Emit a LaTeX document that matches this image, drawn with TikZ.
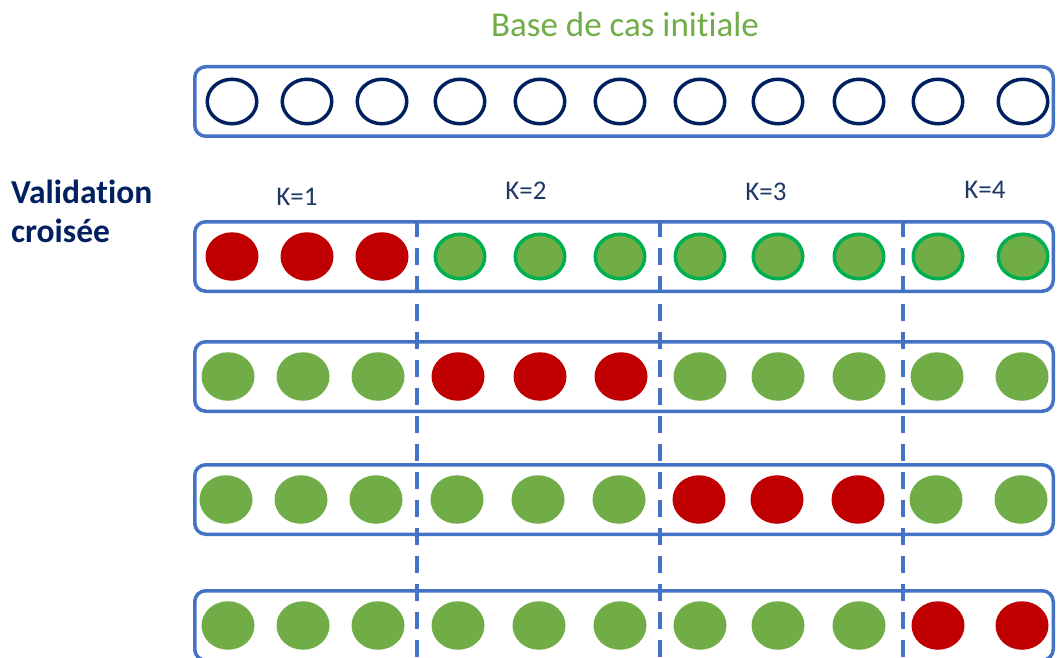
\documentclass[tikz,border=0pt]{standalone}
\usepackage{fontspec}
\setmainfont{Carlito}[Ligatures={NoCommon}]
\usetikzlibrary{shapes.geometric}
\definecolor{boxblue}{HTML}{4472C4}
\definecolor{navy}{HTML}{002060}
\definecolor{kblue}{HTML}{1F3864}
\definecolor{cred}{HTML}{C00000}
\definecolor{cgreen}{HTML}{70AD47}
\definecolor{lgreen}{HTML}{00B050}
\begin{document}
\begin{tikzpicture}[x=1pt,y=-1pt,
  rowbox/.style={draw=boxblue, line width=3.5pt, rounded corners=11pt, minimum width=858.5pt, minimum height=69.5pt, inner sep=0pt},
  emptyc/.style={ellipse, draw=navy, fill=white, line width=3.5pt, minimum width=49.5pt, minimum height=44.5pt, inner sep=0pt},
  redc/.style={ellipse, fill=cred, minimum width=53pt, minimum height=48.5pt, inner sep=0pt},
  greenc/.style={ellipse, fill=cgreen, minimum width=53pt, minimum height=48.5pt, inner sep=0pt},
  greeno/.style={ellipse, fill=cgreen, draw=lgreen, line width=3.5pt, minimum width=49.5pt, minimum height=44.5pt, inner sep=0pt},
  fold/.style={draw=boxblue, line width=3.5pt, dash pattern=on 17pt off 11pt},
  klabel/.style={anchor=base, text=kblue, font=\fontsize{27}{32}\selectfont, inner sep=0pt},
]
\useasboundingbox (0,0) rectangle (1057,658);
\clip (0,0) rectangle (1057,658);
\fill[white] (0,0) rectangle (1057,658);

% boxes
\node[rowbox] (box0) at (624,101.5) {};
\node[rowbox] (box1) at (624,256.5) {};
\node[rowbox] (box2) at (624,376.5) {};
\node[rowbox] (box3) at (624,499.5) {};
\node[rowbox] (box4) at (624,625.5) {};

% fold separators
\coordinate (d1t) at (417,220); \coordinate (d1b) at (417,662);
\coordinate (d2t) at (660,220); \coordinate (d2b) at (660,662);
\coordinate (d3t) at (903,220); \coordinate (d3b) at (903,662);
\draw[fold] (d1t) -- (d1b);
\draw[fold] (d2t) -- (d2b);
\draw[fold] (d3t) -- (d3b);

% initial case base
\foreach \x [count=\i] in {232,307,382,460,540,620,700,778,859,938,1023}
  \node[emptyc] (t\i) at (\x,101.5) {};

% row 1
\foreach \s/\x [count=\i] in {redc/232,redc/307,redc/382,greeno/460,greeno/540,greeno/620,greeno/700,greeno/778,greeno/859,greeno/938,greeno/1023}
  \node[\s] (a\i) at (\x,256.5) {};
% row 2
\foreach \s/\x [count=\i] in {greenc/228,greenc/303,greenc/378,redc/458,redc/540,redc/621,greenc/700,greenc/778,greenc/859,greenc/937,greenc/1022}
  \node[\s] (b\i) at (\x,376.5) {};
% row 3
\foreach \s/\x [count=\i] in {greenc/226,greenc/301,greenc/376,greenc/457,greenc/538,greenc/619,redc/699,redc/777,redc/858,greenc/936,greenc/1021}
  \node[\s] (c\i) at (\x,499.5) {};
% row 4
\foreach \s/\x [count=\i] in {greenc/228,greenc/303,greenc/378,greenc/458,greenc/539,greenc/620,greenc/700,greenc/778,greenc/859,redc/938,redc/1022}
  \node[\s] (e\i) at (\x,625.5) {};

% texts
\node[anchor=base, text=cgreen, font=\fontsize{35}{40}\selectfont, inner sep=0pt] (title) at (625,37) {Base de cas initiale};
\node[anchor=base west, align=left, text=navy, font=\fontsize{33.5}{39}\selectfont\bfseries, inner sep=0pt] (vc) at (11,242) {Validation\\croisée};
\node[klabel] (k1) at (297,205) {K=1};
\node[klabel] (k2) at (526,199) {K=2};
\node[klabel] (k3) at (766,200) {K=3};
\node[klabel] (k4) at (985,198) {K=4};
\end{tikzpicture}
\end{document}
